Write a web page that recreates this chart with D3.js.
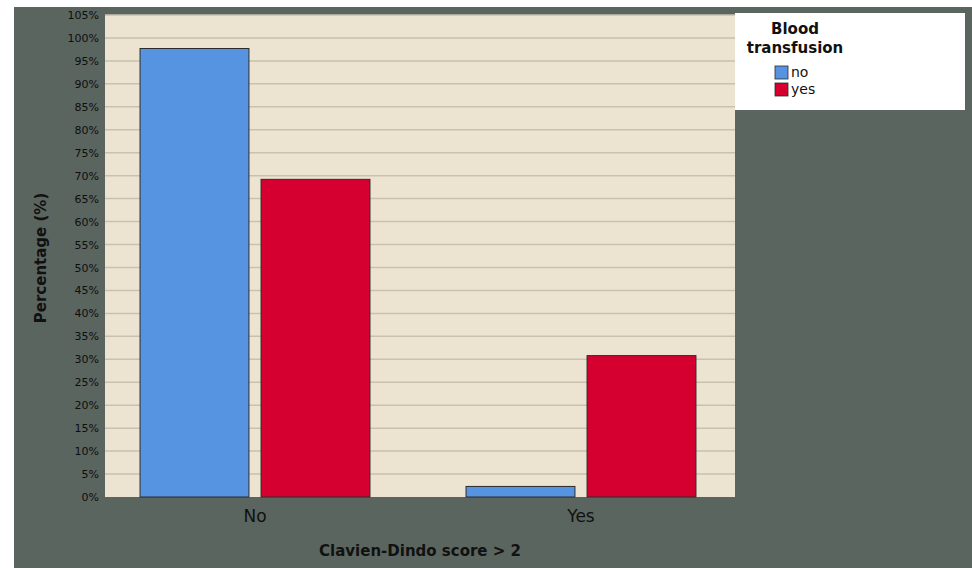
<!DOCTYPE html>
<html><head><meta charset="utf-8">
<script src="https://cdn.jsdelivr.net/npm/d3@7"></script>
<style>body{margin:0;background:#fff}svg{display:block}</style>
</head><body>
<script>
const categories = ["No", "Yes"];
const seriesNames = ["no", "yes"];
const valuesNo = [97.7, 2.3];   // Blood transfusion = no
const valuesYes = [69.2, 30.8]; // Blood transfusion = yes
const yTicks = [0,5,10,15,20,25,30,35,40,45,50,55,60,65,70,75,80,85,90,95,100,105];
const colors = ["#5694e1", "#d5002f"];

const W = 972, H = 568;
const svg = d3.select("body").append("svg").attr("width", W).attr("height", H)
  .style("font-family", "'DejaVu Sans', sans-serif");

svg.append("rect").attr("x", 0).attr("y", 0).attr("width", W).attr("height", H).attr("fill", "#fff");
svg.append("rect").attr("x", 14).attr("y", 7).attr("width", W - 14).attr("height", H - 7).attr("fill", "#5b6560");

const plot = {left: 105, right: 735, top: 15, bottom: 497};
const y = d3.scaleLinear().domain([0, 105]).range([plot.bottom, plot.top]);
const x0 = d3.scaleBand().domain(categories).range([92, 744]).paddingInner(0).paddingOuter(0);
const x1 = d3.scaleBand().domain(seriesNames).range([0, x0.bandwidth()]).paddingInner(0.1).paddingOuter(0.397);

svg.append("rect").attr("x", plot.left).attr("y", plot.top)
  .attr("width", plot.right - plot.left).attr("height", plot.bottom - plot.top).attr("fill", "#ece4d1");

// gridlines
svg.append("g").selectAll("line").data(yTicks.filter(d => d > 0)).join("line")
  .attr("x1", plot.left).attr("x2", plot.right)
  .attr("y1", d => y(d)).attr("y2", d => y(d))
  .attr("stroke", "#c9c0ae").attr("stroke-width", 1.5);

// y axis
const yAxis = d3.axisLeft(y).tickValues(yTicks).tickFormat(d => d + "%").tickSize(0).tickPadding(6);
const ga = svg.append("g").attr("transform", `translate(${plot.left},0)`).call(yAxis);
ga.select(".domain").remove();
ga.selectAll("text").attr("fill", "#0e0e0e").style("font-size", "11px").style("font-family", "'DejaVu Sans', sans-serif");

// bars
const rows = categories.map((c, i) => ({cat: c, vals: [valuesNo[i], valuesYes[i]]}));
const g = svg.append("g").selectAll("g").data(rows).join("g")
  .attr("transform", d => `translate(${x0(d.cat)},0)`);
g.selectAll("rect").data(d => d.vals.map((v, j) => ({s: seriesNames[j], v, j}))).join("rect")
  .attr("x", d => x1(d.s)).attr("width", x1.bandwidth())
  .attr("y", d => y(d.v)).attr("height", d => y(0) - y(d.v))
  .attr("fill", d => colors[d.j]).attr("stroke", "#2b2b2b").attr("stroke-width", 1);

// x axis labels
const xAxis = d3.axisBottom(x0).tickSize(0).tickPadding(13);
const gx = svg.append("g").attr("transform", `translate(0,${plot.bottom})`).call(xAxis);
gx.select(".domain").remove();
gx.selectAll("text").attr("fill", "#111").style("font-size", "17px").style("font-family", "'DejaVu Sans', sans-serif");

// axis titles
svg.append("text").attr("x", (plot.left + plot.right) / 2).attr("y", 556)
  .attr("text-anchor", "middle").attr("font-weight", "bold").attr("font-size", "15px").attr("fill", "#111")
  .text("Clavien-Dindo score > 2");
svg.append("text").attr("transform", `translate(46,${(plot.top + plot.bottom) / 2 + 2}) rotate(-90)`)
  .attr("text-anchor", "middle").attr("font-weight", "bold").attr("font-size", "15px").attr("fill", "#111")
  .text("Percentage (%)");

// legend
const lg = svg.append("g");
lg.append("rect").attr("x", 735).attr("y", 13).attr("width", 230).attr("height", 97).attr("fill", "#fff");
lg.append("text").attr("x", 795).attr("y", 34).attr("text-anchor", "middle").attr("font-weight", "bold")
  .attr("font-size", "15px").attr("fill", "#111").text("Blood");
lg.append("text").attr("x", 795).attr("y", 53).attr("text-anchor", "middle").attr("font-weight", "bold")
  .attr("font-size", "15px").attr("fill", "#111").text("transfusion");
const li = lg.selectAll("g.item").data(seriesNames).join("g").attr("class", "item")
  .attr("transform", (d, i) => `translate(775,${66 + i * 17})`);
li.append("rect").attr("width", 13).attr("height", 13).attr("fill", (d, i) => colors[i])
  .attr("stroke", "#2b2b2b").attr("stroke-width", 0.8);
li.append("text").attr("x", 16).attr("y", 11).attr("font-size", "14px").attr("fill", "#111").text(d => d);
</script>
</body></html>
